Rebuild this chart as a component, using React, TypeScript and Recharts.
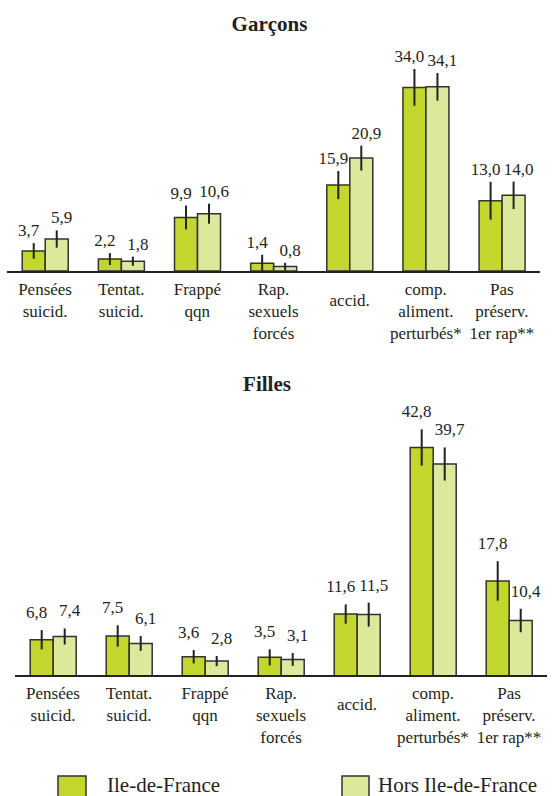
import React from 'react';
import { BarChart, Bar, XAxis, YAxis, ErrorBar, LabelList } from 'recharts';

const categories = [
  'Pensées\nsuicid.',
  'Tentat.\nsuicid.',
  'Frappé\nqqn',
  'Rap.\nsexuels\nforcés',
  'accid.',
  'comp.\naliment.\nperturbés*',
  'Pas\npréserv.\n1er rap**',
];
const seriesNames = ['Ile-de-France', 'Hors Ile-de-France'];
const panelTitles = ['Garçons', 'Filles'];

const garconsIdf = [3.7, 2.2, 9.9, 1.4, 15.9, 34.0, 13.0];
const garconsHors = [5.9, 1.8, 10.6, 0.8, 20.9, 34.1, 14.0];
const garconsErrIdf = [1.45, 1.1, 2.2, 1.6, 2.6, 3.4, 3.5];
const garconsErrHors = [1.6, 0.85, 1.85, 0.7, 2.3, 2.55, 2.55];

const fillesIdf = [6.8, 7.5, 3.6, 3.5, 11.6, 42.8, 17.8];
const fillesHors = [7.4, 6.1, 2.8, 3.1, 11.5, 39.7, 10.4];
const fillesErrIdf = [1.8, 2.0, 1.25, 1.5, 1.8, 3.4, 3.7];
const fillesErrHors = [1.5, 1.4, 0.95, 1.2, 2.25, 3.1, 2.2];

const FONT = '"Liberation Serif", "Times New Roman", Times, serif';
const COLORS = ['#c2d62e', '#dce99b'];
const STROKE = '#333333';
const TEXT = '#231f20';
const textStyle: React.CSSProperties = { fontFamily: FONT, fontSize: 17, fill: TEXT };

const buildRows = (idf: number[], hors: number[], eIdf: number[], eHors: number[]) =>
  categories.map((c, i) => ({ cat: c, idf: idf[i], hors: hors[i], eIdf: eIdf[i], eHors: eHors[i] }));

const garconsRows = buildRows(garconsIdf, garconsHors, garconsErrIdf, garconsErrHors);
const fillesRows = buildRows(fillesIdf, fillesHors, fillesErrIdf, fillesErrHors);

const fmt = (v: number) => Number(v).toFixed(1).replace('.', ',');

const makeLabel = (errs: number[], dx: number, gap: number) => (props: any) => {
  const x = Number(props.x);
  const y = Number(props.y);
  const w = Number(props.width);
  const h = Number(props.height);
  const v = Number(props.value);
  const ppu = v ? h / v : 0;
  const top = y - errs[props.index] * ppu;
  return (
    <text x={x + w / 2 + dx} y={top - gap} textAnchor="middle" style={textStyle}>
      {fmt(v)}
    </text>
  );
};

const Tick = (props: any) => {
  const { x, y, payload } = props;
  const lines = String(payload.value).split('\n');
  const shift = lines.length === 1 ? 11 : 0;
  return (
    <text x={x} y={y} textAnchor="middle" style={textStyle}>
      {lines.map((l, i) => (
        <tspan key={i} x={x} dy={i === 0 ? 23 + shift : 22}>
          {l}
        </tspan>
      ))}
    </text>
  );
};

type PanelProps = {
  rows: any[];
  errIdf: number[];
  errHors: number[];
  height: number;
  margin: { top: number; right: number; left: number; bottom: number };
  xAxisHeight: number;
  domain: [number, number];
  labelGap: number;
};

function Panel({ rows, errIdf, errHors, height, margin, xAxisHeight, domain, labelGap }: PanelProps) {
  return (
    <BarChart width={556} height={height} data={rows} margin={margin} barGap={0} barCategoryGap="20%" style={{ fontFamily: FONT }}>
      <XAxis
        dataKey="cat"
        height={xAxisHeight}
        tickLine={false}
        tickSize={0}
        tickMargin={0}
        interval={0}
        axisLine={{ stroke: '#222', strokeWidth: 2 }}
        tick={<Tick />}
      />
      <YAxis hide domain={domain} />
      <Bar dataKey="idf" name={seriesNames[0]} fill={COLORS[0]} stroke={STROKE} strokeWidth={1.5} isAnimationActive={false}>
        <ErrorBar dataKey="eIdf" width={0} stroke="#222" strokeWidth={2} direction="y" />
        <LabelList dataKey="idf" content={makeLabel(errIdf, -5, labelGap)} />
      </Bar>
      <Bar dataKey="hors" name={seriesNames[1]} fill={COLORS[1]} stroke={STROKE} strokeWidth={1.5} isAnimationActive={false}>
        <ErrorBar dataKey="eHors" width={0} stroke="#222" strokeWidth={2} direction="y" />
        <LabelList dataKey="hors" content={makeLabel(errHors, 5, labelGap)} />
      </Bar>
    </BarChart>
  );
}

export default function App() {
  return (
    <div style={{ position: 'absolute', left: 0, top: 0, width: 556, height: 796, overflow: 'hidden', background: '#fff', fontFamily: FONT }}>
      <div style={{ position: 'absolute', left: 0, top: 0 }}>
        <Panel
          rows={garconsRows}
          errIdf={garconsErrIdf}
          errHors={garconsErrHors}
          height={360}
          margin={{ top: 55, right: 16, left: 7, bottom: 8 }}
          xAxisHeight={80}
          domain={[0, 40]}
          labelGap={7}
        />
      </div>
      <div style={{ position: 'absolute', left: 0, top: 360 }}>
        <Panel
          rows={fillesRows}
          errIdf={fillesErrIdf}
          errHors={fillesErrHors}
          height={436}
          margin={{ top: 49, right: 9, left: 15, bottom: 10 }}
          xAxisHeight={110}
          domain={[0, 50]}
          labelGap={12}
        />
      </div>
      <svg width={556} height={796} style={{ position: 'absolute', left: 0, top: 0, pointerEvents: 'none' }}>
        <text x={269.5} y={31} textAnchor="middle" style={{ fontFamily: FONT, fontWeight: 'bold', fontSize: 21, fill: TEXT }}>
          {panelTitles[0]}
        </text>
        <text x={267} y={391} textAnchor="middle" style={{ fontFamily: FONT, fontWeight: 'bold', fontSize: 21, fill: TEXT }}>
          {panelTitles[1]}
        </text>
        <rect x={58} y={776} width={28} height={28} fill={COLORS[0]} stroke={STROKE} strokeWidth={1.5} />
        <text x={107} y={792} style={{ fontFamily: FONT, fontSize: 21, fill: TEXT }}>
          {seriesNames[0]}
        </text>
        <rect x={342} y={776} width={27} height={28} fill={COLORS[1]} stroke={STROKE} strokeWidth={1.5} />
        <text x={378} y={792} style={{ fontFamily: FONT, fontSize: 21, fill: TEXT }}>
          {seriesNames[1]}
        </text>
      </svg>
    </div>
  );
}
